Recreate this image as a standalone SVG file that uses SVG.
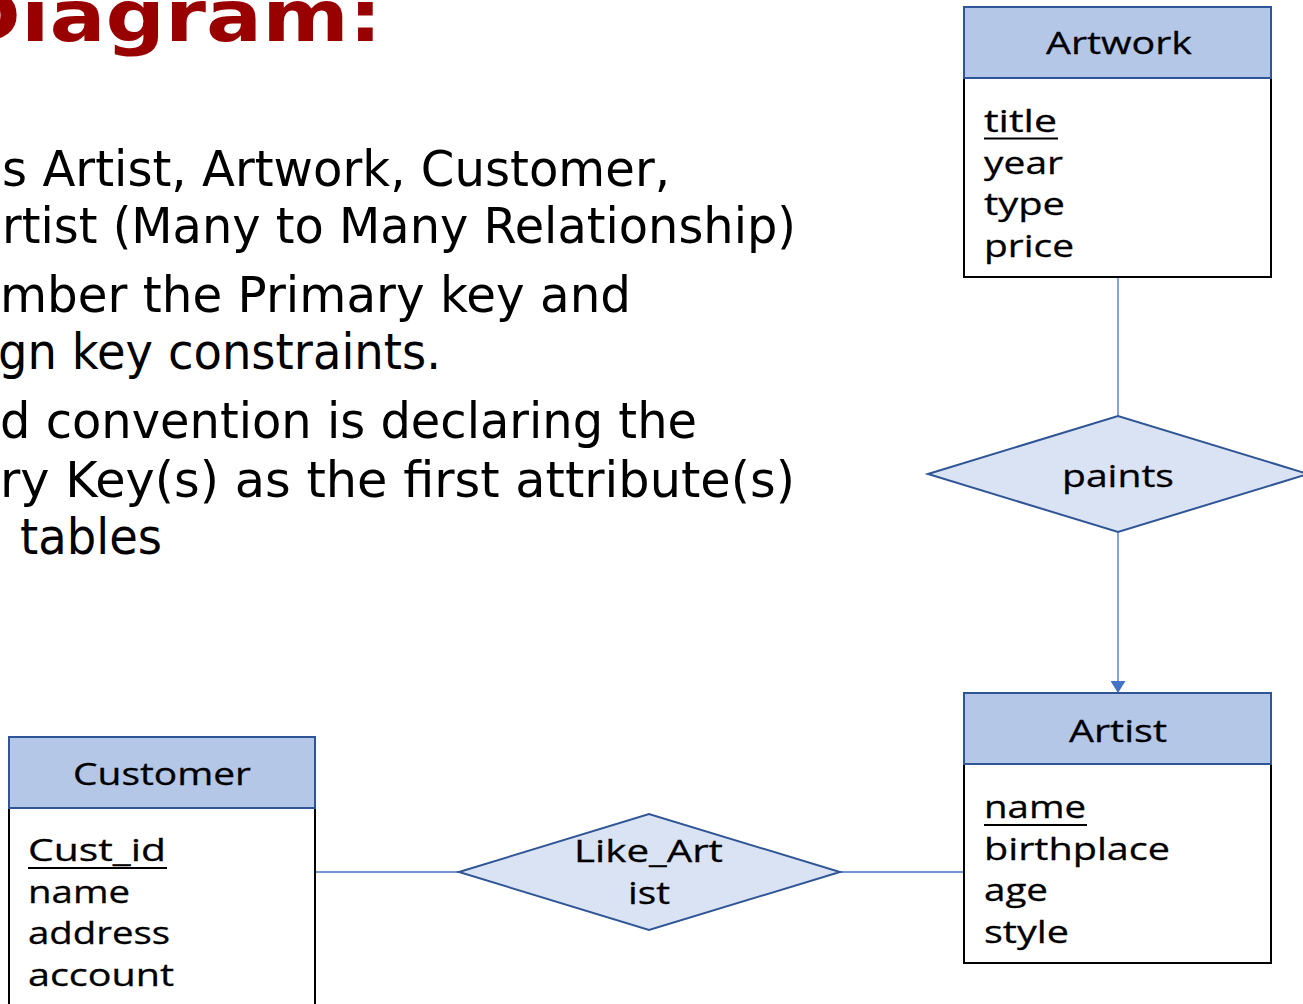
<svg xmlns="http://www.w3.org/2000/svg" width="1303" height="1004" viewBox="0 0 1303 1004">
<style>
.title{font-family:"DejaVu Sans",Verdana,sans-serif;font-weight:bold;font-size:72px;fill:#990000}
.body{font-family:"DejaVu Sans",Verdana,sans-serif;font-size:49px;fill:#000}
.hdr{fill:#B4C7E7;stroke:#2F5597;stroke-width:2}
.box{fill:#fff;stroke:#000;stroke-width:2}
.dia{fill:#DAE3F3;stroke:#2F5597;stroke-width:2}
.t{font-family:"Open Sans","Noto Sans",sans-serif;font-size:31px;fill:#000;stroke:#000;stroke-width:0.3}
.ul{stroke:#000;stroke-width:2}
.con{stroke:#4472C4;stroke-width:1.3;fill:none}
</style>
<defs>
<marker id="arr" markerWidth="12" markerHeight="15" refX="12" refY="7.5" orient="auto" markerUnits="userSpaceOnUse">
<path d="M0,0 L12,7.5 L0,15 Z" fill="#4472C4"/>
</marker>
</defs>
<rect width="1303" height="1004" fill="#fff"/>
<g id="heading">
<text class="title" x="-48" y="41" textLength="430" lengthAdjust="spacingAndGlyphs">Diagram:</text>
</g>
<g id="bullets">
<text class="body" x="2" y="186" textLength="668" lengthAdjust="spacingAndGlyphs">s Artist, Artwork, Customer,</text>
<text class="body" x="2" y="243" textLength="794" lengthAdjust="spacingAndGlyphs">rtist (Many to Many Relationship)</text>
<text class="body" x="0" y="312" textLength="631" lengthAdjust="spacingAndGlyphs">mber the Primary key and</text>
<text class="body" x="-2" y="369" textLength="443" lengthAdjust="spacingAndGlyphs">gn key constraints.</text>
<text class="body" x="0" y="438" textLength="697" lengthAdjust="spacingAndGlyphs">d convention is declaring the</text>
<text class="body" x="0" y="497" textLength="795" lengthAdjust="spacingAndGlyphs">ry Key(s) as the first attribute(s)</text>
<text class="body" x="20" y="554" textLength="142" lengthAdjust="spacingAndGlyphs">tables</text>
</g>
<g id="connectors">
<line class="con" x1="1118" y1="277" x2="1118" y2="416"/>
<line class="con" x1="1118" y1="532" x2="1118" y2="693" marker-end="url(#arr)"/>
<line class="con" x1="315" y1="872" x2="459" y2="872"/>
<line class="con" x1="840" y1="872" x2="964" y2="872"/>
</g>
<g id="artwork">
<rect class="box" x="964" y="78" width="307" height="199"/>
<rect class="hdr" x="964" y="7" width="307" height="71"/>
<text class="t" x="1046" y="54" textLength="146" lengthAdjust="spacingAndGlyphs">Artwork</text>
<text class="t" x="984" y="132" textLength="73" lengthAdjust="spacingAndGlyphs">title</text>
<line class="ul" x1="984" y1="138.5" x2="1058" y2="138.5"/>
<text class="t" x="984" y="174" textLength="79" lengthAdjust="spacingAndGlyphs">year</text>
<text class="t" x="984" y="215" textLength="81" lengthAdjust="spacingAndGlyphs">type</text>
<text class="t" x="984" y="257" textLength="90" lengthAdjust="spacingAndGlyphs">price</text>
</g>
<g id="paints">
<polygon class="dia" points="928,474 1118,416 1308,474 1118,532"/>
<text class="t" x="1062" y="487" textLength="112" lengthAdjust="spacingAndGlyphs">paints</text>
</g>
<g id="artist">
<rect class="box" x="964" y="764" width="307" height="199"/>
<rect class="hdr" x="964" y="693" width="307" height="71"/>
<text class="t" x="1069" y="742" textLength="98" lengthAdjust="spacingAndGlyphs">Artist</text>
<text class="t" x="984" y="818" textLength="102" lengthAdjust="spacingAndGlyphs">name</text>
<line class="ul" x1="984" y1="825" x2="1087" y2="825"/>
<text class="t" x="984" y="860" textLength="186" lengthAdjust="spacingAndGlyphs">birthplace</text>
<text class="t" x="984" y="901" textLength="64" lengthAdjust="spacingAndGlyphs">age</text>
<text class="t" x="984" y="943" textLength="85" lengthAdjust="spacingAndGlyphs">style</text>
</g>
<g id="customer">
<rect class="box" x="9" y="808" width="306" height="210"/>
<rect class="hdr" x="9" y="737" width="306" height="71"/>
<text class="t" x="73" y="785" textLength="178" lengthAdjust="spacingAndGlyphs">Customer</text>
<text class="t" x="28" y="861" textLength="138" lengthAdjust="spacingAndGlyphs">Cust_id</text>
<line class="ul" x1="28" y1="868" x2="167" y2="868"/>
<text class="t" x="28" y="903" textLength="102" lengthAdjust="spacingAndGlyphs">name</text>
<text class="t" x="28" y="944" textLength="142" lengthAdjust="spacingAndGlyphs">address</text>
<text class="t" x="28" y="986" textLength="146" lengthAdjust="spacingAndGlyphs">account</text>
</g>
<g id="like_artist">
<polygon class="dia" points="459,872 649,814 840,872 649,930"/>
<text class="t" x="574" y="862" textLength="149" lengthAdjust="spacingAndGlyphs">Like_Art</text>
<text class="t" x="628" y="904" textLength="42" lengthAdjust="spacingAndGlyphs">ist</text>
</g>
</svg>
